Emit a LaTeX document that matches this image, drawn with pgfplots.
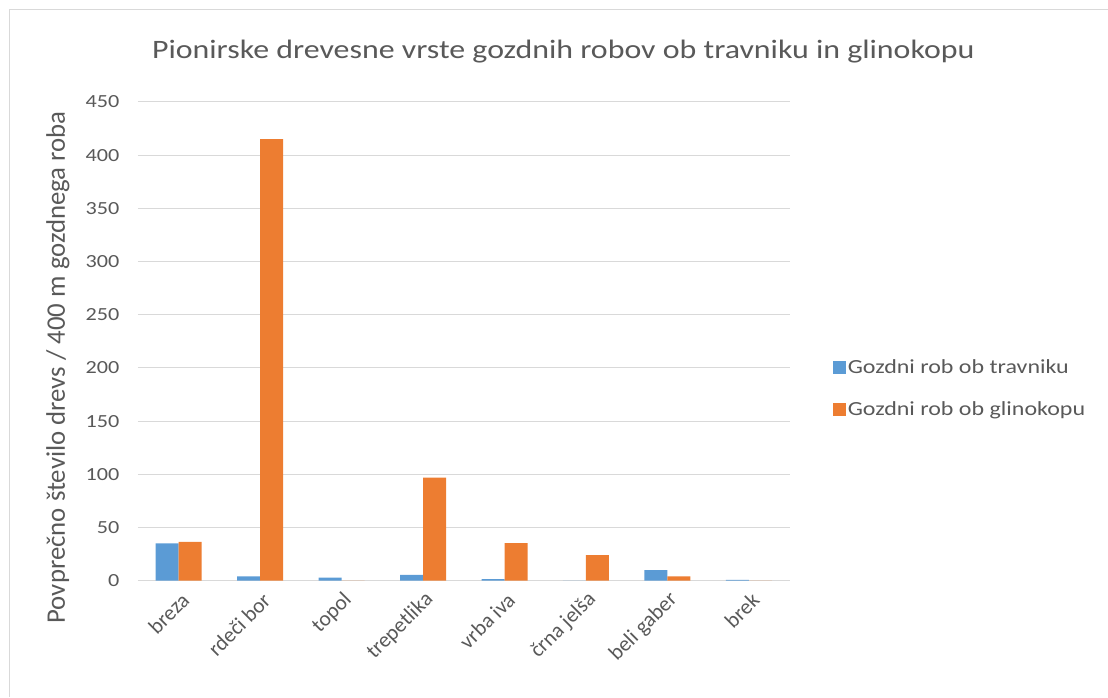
\documentclass[border=0pt]{standalone}
\usepackage{pgfplots}
\pgfplotsset{compat=1.18}
\usepackage{fontspec}
\setmainfont{Carlito}
\definecolor{cblue}{HTML}{5B9BD5}
\definecolor{corange}{HTML}{ED7D31}
\definecolor{cgrid}{HTML}{D9D9D9}
\definecolor{ctext}{HTML}{595959}
\newcommand{\wide}[1]{\scalebox{1.2}[1]{#1}}
\begin{document}
\begin{tikzpicture}
\path (0pt,0pt) rectangle (1108pt,697pt);
\draw[cgrid,line width=1pt] (10pt,0pt) -- (10pt,687pt) -- (1108pt,687pt);
\node[text=ctext,font=\fontsize{26.6}{32}\selectfont,anchor=center] at (563.5pt,645pt) {\wide{Pionirske drevesne vrste gozdnih robov ob travniku in glinokopu}};
\begin{axis}[
  at={(138pt,116pt)}, anchor=south west,
  scale only axis, width=652pt, height=479pt,
  ybar=0pt, bar width=23pt,
  xmin=-0.5, xmax=7.5, ymin=0, ymax=450,
  ytick={0,50,...,450},
  yticklabel={\wide{\pgfmathprintnumber{\tick}}},
  xtick=data,
  xticklabels={breza,rdeči bor,topol,trepetlika,vrba iva,črna jelša,beli gaber,brek},
  xticklabel style={rotate=45,anchor=east,text=ctext,font=\fontsize{21.5}{24}\selectfont,xshift=-3pt,yshift=-16pt},
  yticklabel style={text=ctext,font=\fontsize{18.5}{22}\selectfont,xshift=-15pt},
  /pgf/number format/assume math mode=true,
  ymajorgrids, grid style={cgrid,line width=1pt},
  axis line style={draw=none},
  major tick length=0pt,
  ylabel={Povprečno število drevs / 400 m gozdnega roba},
  ylabel style={at={(axis description cs:-0.1227,0.4457)},anchor=center,text=ctext,font=\fontsize{26.8}{30}\selectfont},
  legend style={at={(1.066,0.4017)},anchor=west,draw=none,fill=none,inner xsep=0pt,
    font=\fontsize{20}{24}\selectfont,text=ctext,row sep=22pt,
    cells={anchor=west}},
  legend image code/.code={\fill[#1,draw=none] (0pt,-6.5pt) rectangle (13pt,6.5pt);},
]
\addplot[fill=cblue,draw=none] coordinates {(0,35) (1,4) (2,3) (3,5.5) (4,1.5) (5,0) (6,10) (7,0.7)};
\addplot[fill=corange,draw=none] coordinates {(0,36.5) (1,415) (2,0) (3,97) (4,35.3) (5,24) (6,4) (7,0)};
\legend{\wide{Gozdni rob ob travniku},\wide{Gozdni rob ob glinokopu}}
\end{axis}
\end{tikzpicture}
\end{document}
